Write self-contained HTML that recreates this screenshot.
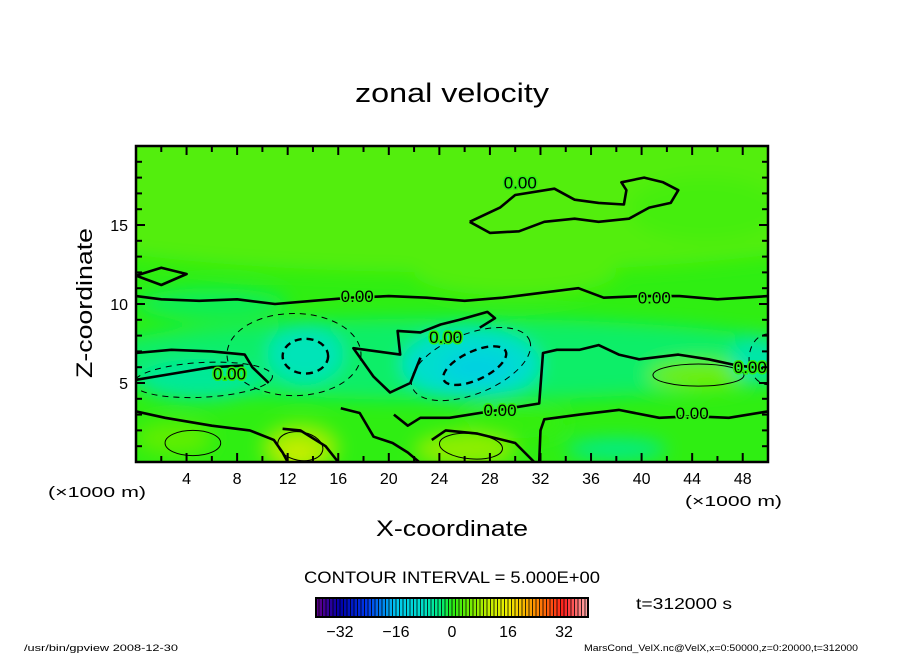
<!DOCTYPE html>
<html><head><meta charset="utf-8"><style>
body{margin:0;background:#fff}
svg text{font-family:"Liberation Sans",sans-serif;fill:#000}
</style></head><body>
<svg id="chart" width="904" height="654" viewBox="0 0 904 654" xmlns="http://www.w3.org/2000/svg">
<defs>
<clipPath id="plotclip"><rect x="136" y="146" width="632" height="316"/></clipPath>
<filter id="blur" x="-50%" y="-50%" width="200%" height="200%"><feGaussianBlur stdDeviation="9"/></filter>
</defs>
<text x="452" y="102" font-size="27" text-anchor="middle" textLength="194" lengthAdjust="spacingAndGlyphs">zonal velocity</text>
<g id="plot" clip-path="url(#plotclip)"></g>
<g id="axes"></g>
<text transform="translate(92,303) rotate(-90)" font-size="22" text-anchor="middle" textLength="150" lengthAdjust="spacingAndGlyphs">Z-coordinate</text>
<text x="452" y="536" font-size="22" text-anchor="middle" textLength="152" lengthAdjust="spacingAndGlyphs">X-coordinate</text>
<text x="48" y="497" font-size="15" textLength="98" lengthAdjust="spacingAndGlyphs">(×1000 m)</text>
<text x="685" y="506" font-size="15" textLength="97" lengthAdjust="spacingAndGlyphs">(×1000 m)</text>
<text x="452" y="583" font-size="17" text-anchor="middle" textLength="296" lengthAdjust="spacingAndGlyphs">CONTOUR INTERVAL = 5.000E+00</text>
<g id="cbar"></g>
<text x="636" y="609" font-size="16" textLength="96" lengthAdjust="spacingAndGlyphs">t=312000 s</text>
<text x="24" y="651" font-size="9.5" textLength="154" lengthAdjust="spacingAndGlyphs">/usr/bin/gpview  2008-12-30</text>
<text x="584" y="651" font-size="9.5" textLength="274" lengthAdjust="spacingAndGlyphs">MarsCond_VelX.nc@VelX,x=0:50000,z=0:20000,t=312000</text>
</svg>
<script>
// ---- data ----
const xTicks=[4,8,12,16,20,24,28,32,36,40,44,48];
const zTicks=[5,10,15];
const cbarTicks=[-32,-16,0,16,32];
// colour blobs (x km, z km, radius x, radius z, value m/s)
const blobX=[25,25,26.5,27,13.4,13,5,3,12.8,26,44.5,49,38,30,45,20,3,30,6];
const blobZ=[17,6.5,6.2,6.0,6.8,0.9,5.2,1.5,0.5,0.8,5.5,6.5,0.8,2.5,16,15,17,12,10];
const blobRx=[40,30,5.5,2.8,3,3,5,3,1.5,4,4,2,4,4,6,8,6,8,6];
const blobRz=[5,2.6,2.2,1,1.8,1.5,1.3,1,0.6,1.1,0.9,1.5,0.7,1,2,2,2,1.5,1];
const blobV=[3,-2.5,-9,-13,-7,8,-5,4,12,7,5,-6,-4,1,2,3,3,3,-2];
// contour lines (x km, z km)
const zeroLines=[
 [[0,10.5],[2,10.3],[5,10.2],[8,10.3],[11,10.0],[14,10.2],[17,10.4],[20,10.5],[23,10.4],[26,10.2],[29,10.4],[32,10.7],[35,11.0],[37,10.4],[40,10.5],[43,10.5],[46,10.3],[50,10.5]],
 [[26.4,15.2],[28.8,16.1],[30,16.9],[33.1,17.3],[34.7,16.6],[36.6,16.4],[38.6,16.3],[38.8,17.2],[38.4,17.7],[40.2,18.0],[41.7,17.7],[42.9,17.2],[42.3,16.4],[40.6,16.1],[39,15.4],[36.6,15.2],[34.7,15.4],[32.3,15.2],[30.3,14.6],[28,14.5],[26.4,15.2]],
 [[22.5,6.6],[21.7,5.0],[20.1,4.4],[18.8,5.4],[17.2,7.2],[20.9,6.8],[20.7,8.3],[22.5,8.2],[24.1,8.7],[25.6,9.0],[27.8,9.5],[28.4,9.1],[27.2,8.5]],
 [[0,3.2],[2.3,2.8],[6,2.3],[9,2.0],[10.9,1.4],[11.6,0.6],[12,0]],
 [[16.2,3.4],[17.7,3.1],[18.8,1.6],[20.3,1.2],[21.5,0.6],[22.4,0]],
 [[20.4,3.0],[21.5,2.3],[22.5,2.8],[24.8,2.8],[28,3.2],[31.9,3.7],[32.2,6.9],[33.3,7.1],[35.1,7.1],[36.6,7.4],[38.2,6.8],[39.8,6.5],[42.9,6.8],[45.3,6.5],[47.6,6.1],[50,5.9]],
 [[31.9,0],[32,2.0],[32.3,2.7],[35.1,3.0],[38.2,3.3],[41.4,2.8],[44,2.9],[46.9,2.8],[50,3.2]],
 [[0,6.9],[2.8,7.1],[6,7.0],[8.6,6.8],[9.2,6.0],[10.5,5.0]],
 [[0,5.2],[3,5.6],[6,6.0],[8.5,6.1]],
 [[23.4,1.4],[24.5,2.0],[27,1.8],[30,1.2],[31.5,0]],
 [[11.6,2.1],[13,2.0],[15,1.0],[16,0]],
 [[0,11.8],[2,12.3],[4,11.9],[2,11.2],[0,11.8]]
];
// ellipses: cx, cz, rx, rz, rotation(deg), kind (neg=dashed)
const ellX=[26.5,26.8,13.4,12.5,5.3,44.5,13,26.5,4.5,50];
const ellZ=[6.2,6.1,6.7,6.8,5.2,5.5,1.0,1.0,1.2,6.5];
const ellRx=[5.0,2.7,1.8,5.3,5.5,3.6,1.8,2.5,2.2,1.5];
const ellRz=[1.9,0.9,1.1,2.6,1.1,0.7,0.9,0.8,0.8,1.6];
const ellRot=[-22,-25,0,0,-3,0,10,5,0,0];
const ellNeg=[1,1,1,1,1,0,0,0,0,1];
const zeroLabels=[[17.5,10.5],[41,10.4],[30.4,17.7],[24.5,7.9],[7.4,5.6],[28.8,3.3],[44,3.1],[48.6,6.0]];
// ---- scales ----
const X=x=>136+x*12.64, Z=z=>462-z*15.8;
const NS='http://www.w3.org/2000/svg';
function mk(t,a,p){const e=document.createElementNS(NS,t);for(const k in a)e.setAttribute(k,a[k]);p.appendChild(e);return e;}
const stops=[[-38,[90,0,140]],[-32,[0,0,170]],[-24,[0,60,240]],[-16,[0,200,240]],[-8,[0,225,200]],[-3,[0,238,120]],[0,[40,238,20]],[5,[110,238,0]],[10,[190,238,0]],[16,[240,240,0]],[24,[255,140,0]],[32,[255,30,30]],[38,[255,160,160]]];
function col(v){for(let i=0;i<stops.length-1;i++){const a=stops[i],b=stops[i+1];if(v<=b[0]){const t=Math.max(0,(v-a[0])/(b[0]-a[0]));return 'rgb('+a[1].map((c,j)=>Math.round(c+(b[1][j]-c)*t)).join(',')+')';}}return 'rgb(255,160,160)';}
const plot=document.getElementById('plot');
const bg=mk('rect',{x:136,y:146,width:632,height:316,fill:col(0.5)},plot);


const bl=mk('g',{filter:'url(#blur)'},plot);
for(let i=0;i<blobX.length;i++){
 const e=mk('ellipse',{cx:X(blobX[i]),cy:Z(blobZ[i]),rx:blobRx[i]*12.64,ry:blobRz[i]*15.8,fill:col(blobV[i])},bl);
 
 
}
for(const ln of zeroLines){
 const p=mk('path',{d:'M'+ln.map(q=>X(q[0]).toFixed(1)+','+Z(q[1]).toFixed(1)).join('L'),fill:'none',stroke:'#000','stroke-width':2.6,'stroke-linejoin':'round'},plot);
 
 
}
for(let i=0;i<ellX.length;i++){
 const cx=X(ellX[i]),cy=Z(ellZ[i]);
 const neg=ellNeg[i];
 const strong=neg&&(i===1||i===2);
 const e=mk('ellipse',{cx:cx,cy:cy,rx:ellRx[i]*12.64,ry:ellRz[i]*15.8,transform:'rotate('+ellRot[i]+' '+cx+' '+cy+')',fill:'none',stroke:'#000','stroke-width':strong?2.4:1,'stroke-dasharray':neg?(strong?'7,5':'6,5'):'none'},plot);
 
 
}
for(const L of zeroLabels){
 const t=mk('text',{x:X(L[0]),y:Z(L[1])+6,'font-size':17,'text-anchor':'middle',stroke:col(0.5),'stroke-width':3,'paint-order':'stroke'},plot);
 t.textContent='0.00';
 
 
}
// axes
const ax=document.getElementById('axes');
const fr=mk('rect',{x:136,y:146,width:632,height:316,fill:'none',stroke:'#000','stroke-width':2.5},ax);


for(let x=2;x<50;x+=2){
 const L=x%4===0?9:6;
 mk('line',{x1:X(x),y1:462,x2:X(x),y2:462-L,stroke:'#000','stroke-width':2},ax);
 mk('line',{x1:X(x),y1:146,x2:X(x),y2:146+L,stroke:'#000','stroke-width':2},ax);
}
for(let z=1;z<20;z++){
 const L=z%5===0?9:6;
 mk('line',{x1:136,y1:Z(z),x2:136+L,y2:Z(z),stroke:'#000','stroke-width':2},ax);
 mk('line',{x1:768,y1:Z(z),x2:768-L,y2:Z(z),stroke:'#000','stroke-width':2},ax);
}
for(const v of xTicks){
 const t=mk('text',{x:X(v),y:484,'font-size':16,'text-anchor':'middle'},ax);
 t.textContent=v;
 
 
}
for(const v of zTicks){
 const t=mk('text',{x:128,y:Z(v)+6,'font-size':16,'text-anchor':'end'},ax);
 t.textContent=v;
 
 
}
// colorbar
const cb=document.getElementById('cbar');
const C=v=>452+v*3.5;
for(let v=-39;v<39;v++){
 const r=mk('rect',{x:C(v),y:598,width:3.5,height:19,fill:col(v+0.5)},cb);
 
 
 mk('line',{x1:C(v),y1:598,x2:C(v),y2:617,stroke:'#000','stroke-width':0.8},cb);
}
mk('rect',{x:316,y:598,width:272,height:19,fill:'none',stroke:'#000','stroke-width':2},cb);
for(const v of cbarTicks){
 const t=mk('text',{x:C(v),y:637,'font-size':16,'text-anchor':'middle'},cb);
 t.textContent=v<0?'\u2212'+(-v):v;
 
 
}
</script>
</body></html>
